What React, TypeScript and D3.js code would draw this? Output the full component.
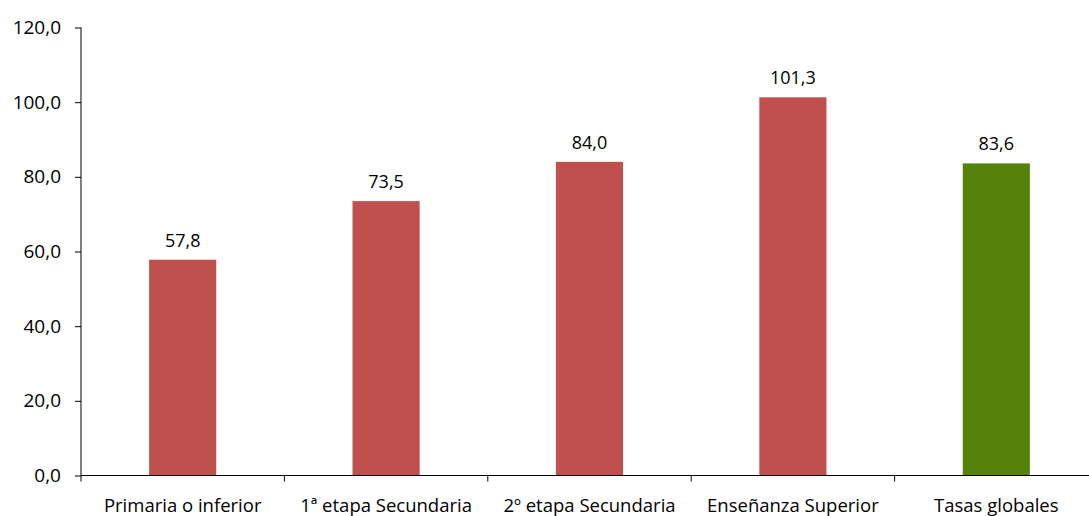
import React, { useEffect, useRef } from 'react';
import * as d3 from 'd3';

const categories = [
  'Primaria o inferior',
  '1ª etapa Secundaria',
  '2º etapa Secundaria',
  'Enseñanza Superior',
  'Tasas globales',
];
const values = [57.8, 73.5, 84.0, 101.3, 83.6];
const barColors = ['#C0504D', '#C0504D', '#C0504D', '#C0504D', '#56820A'];
const yTicks = [0, 20, 40, 60, 80, 100, 120];

const W = 1089;
const H = 516;

const fmt = (v: number) => v.toFixed(1).replace('.', ',');

const App = () => {
  const svgRef = useRef<SVGSVGElement>(null);

  useEffect(() => {
    const svg = d3.select(svgRef.current);
    svg.selectAll('*').remove();

    const left = 81;
    const bandW = 203.4;
    const top = 27.5;
    const bottom = 475.5;
    const font = 'Open Sans, sans-serif';

    const x = d3
      .scaleBand()
      .domain(categories)
      .range([left, left + bandW * categories.length])
      .paddingInner(0.67)
      .paddingOuter(0.335);

    const y = d3.scaleLinear().domain([0, 120]).range([bottom, top]);

    // bars
    svg
      .append('g')
      .selectAll('rect')
      .data(values)
      .enter()
      .append('rect')
      .attr('x', (d, i) => x(categories[i]) as number)
      .attr('width', x.bandwidth())
      .attr('y', d => y(d))
      .attr('height', d => y(0) - y(d))
      .attr('fill', (d, i) => barColors[i]);

    // value labels
    svg
      .append('g')
      .selectAll('text')
      .data(values)
      .enter()
      .append('text')
      .attr('x', (d, i) => (x(categories[i]) as number) + x.bandwidth() / 2)
      .attr('y', d => y(d) - 13)
      .attr('text-anchor', 'middle')
      .attr('font-family', font)
      .attr('font-size', 18)
      .attr('fill', '#000')
      .text(d => fmt(d));

    // y axis
    const yAxis = svg
      .append('g')
      .attr('transform', `translate(${left},0)`)
      .call(
        d3
          .axisLeft(y)
          .tickValues(yTicks)
          .tickSize(6)
          .tickPadding(14)
          .tickFormat(d => fmt(d as number))
      );
    yAxis.select('.domain').attr('stroke', '#000').attr('d', `M0,${top}V${bottom}`);
    yAxis.selectAll('.tick line').attr('stroke', '#000');
    yAxis
      .selectAll('.tick text')
      .attr('font-family', font)
      .attr('font-size', 19)
      .attr('fill', '#000');

    // x axis
    const xg = svg.append('g').attr('transform', `translate(0,${bottom})`);
    xg.append('line')
      .attr('x1', left)
      .attr('x2', W)
      .attr('stroke', '#000');
    const bounds = d3.range(categories.length + 1).map(i => left + i * bandW);
    xg.selectAll('line.tk')
      .data(bounds)
      .enter()
      .append('line')
      .attr('class', 'tk')
      .attr('x1', d => d)
      .attr('x2', d => d)
      .attr('y1', 0)
      .attr('y2', 6)
      .attr('stroke', '#000');
    xg.selectAll('text')
      .data(categories)
      .enter()
      .append('text')
      .attr('x', d => (x(d) as number) + x.bandwidth() / 2)
      .attr('y', 36)
      .attr('text-anchor', 'middle')
      .attr('font-family', font)
      .attr('font-size', 18.5)
      .attr('fill', '#000')
      .text(d => d);
  }, []);

  return (
    <svg
      ref={svgRef}
      width={W}
      height={H}
      style={{ position: 'absolute', left: 0, top: 0, background: '#fff' }}
    ></svg>
  );
};

export default App;
